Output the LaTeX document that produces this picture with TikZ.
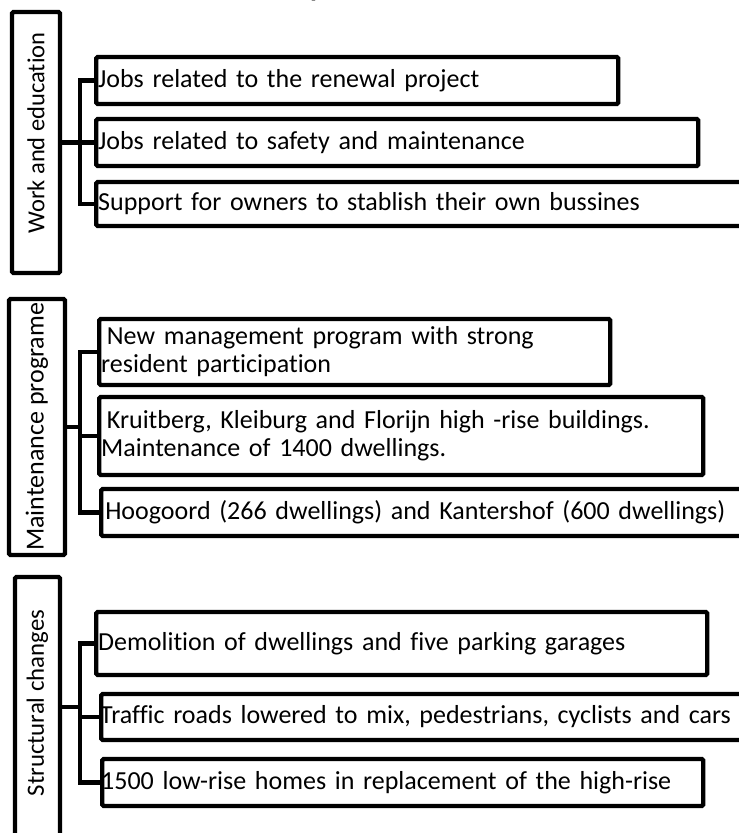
\documentclass[tikz,border=0pt]{standalone}
\usepackage{fontspec}
\setmainfont{Carlito}[Ligatures=NoCommon]
\usepackage{graphicx}
\begin{document}
\begin{tikzpicture}[x=1pt,y=1pt,
  box/.style={draw, line width=4.4pt, rounded corners=1.5pt, inner sep=0pt},
  leaf/.style={box, anchor=west, align=left, inner xsep=2pt, inner ysep=0pt,
    font=\fontsize{26}{28}\selectfont},
  conn/.style={line width=4.4pt}]
\useasboundingbox (0,0) rectangle (739,-833);

% title fragment
\node[font=\fontsize{40}{40}\selectfont, anchor=base, inner sep=0pt] (ttl) at (320,6) {p};

% group 1
\node[box, minimum width=48, minimum height=261] (w) at (36,-142.5)
  {\rotatebox{90}{\fontsize{24.5}{28}\selectfont\hspace*{19pt}Work and education}};
\node[leaf, text width=518, minimum height=47] (a1) at (94,-80.5) {Jobs related to the renewal project};
\node[leaf, text width=598, minimum height=47] (a2) at (94,-142.5) {Jobs related to safety and maintenance};
\node[leaf, text width=672, minimum height=44] (a3) at (94,-204) {Support for owners to stablish their own bussines};
\coordinate (bus1) at (80,0);
\draw[conn] (w.east) -- (w.east -| bus1) |- (a1.west);
\draw[conn] (w.east) -- (w.east -| bus1) |- (a2.west);
\draw[conn] (w.east) -- (w.east -| bus1) |- (a3.west);

% group 2
\node[box, minimum width=56, minimum height=256] (m) at (37,-427)
  {\rotatebox{90}{\fontsize{26}{28}\selectfont Maintenance programe}};
\node[leaf, text width=507, minimum height=66] (b1) at (97,-352)
  {\hspace*{0.22em}New management program with strong\\resident participation};
\node[leaf, text width=600, minimum height=78] (b2) at (97,-436)
  {\hspace*{0.22em}Kruitberg, Kleiburg and Florijn high -rise buildings.\\Maintenance of 1400 dwellings.};
\node[leaf, text width=667, minimum height=47] (b3) at (99,-512.5)
  {\hspace*{0.08em}Hoogoord (266 dwellings) and Kantershof (600 dwellings)};
\coordinate (bus2) at (80,0);
\draw[conn] (m.east) -- (m.east -| bus2) |- (b1.west);
\draw[conn] (m.east) -- (m.east -| bus2) |- (b2.west);
\draw[conn] (m.east) -- (m.east -| bus2) |- (b3.west);

% group 3
\node[box, minimum width=45, minimum height=260] (s) at (37.5,-707)
  {\rotatebox{90}{\fontsize{24.8}{28}\selectfont\hspace*{8pt}Structural changes}};
\node[leaf, text width=607, minimum height=63] (c1) at (94,-643.5) {Demolition of dwellings and five parking garages};
\node[leaf, text width=667, minimum height=46] (c2) at (99,-717) {\hspace*{-3pt}Traffic roads lowered to mix, pedestrians, cyclists and cars};
\node[leaf, text width=597, minimum height=47] (c3) at (100,-782.5) {\hspace*{-3pt}1500 low-rise homes in replacement of the high-rise};
\coordinate (bus3) at (80,0);
\draw[conn] (s.east) -- (s.east -| bus3) |- (c1.west);
\draw[conn] (s.east) -- (s.east -| bus3) |- (c2.west);
\draw[conn] (s.east) -- (s.east -| bus3) |- (c3.west);
\end{tikzpicture}
\end{document}
